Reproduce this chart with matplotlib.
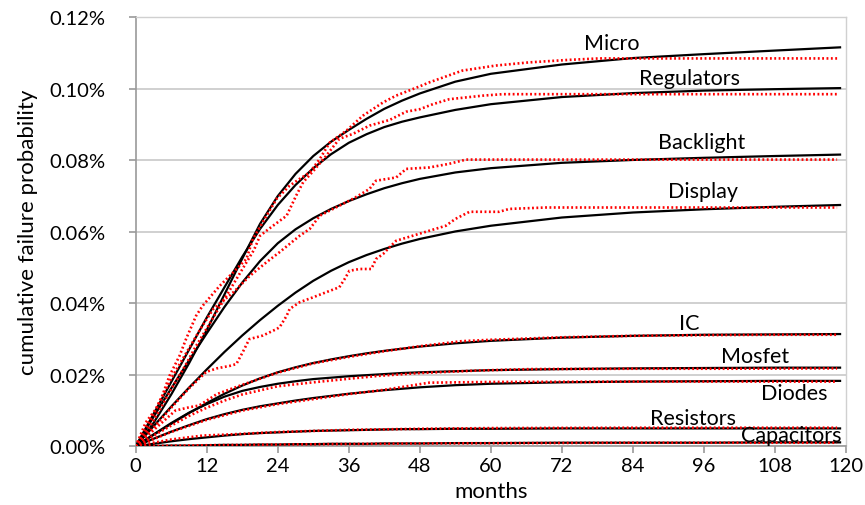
import matplotlib
matplotlib.use("Agg")
import matplotlib.pyplot as plt
from matplotlib.ticker import FuncFormatter

plt.rcParams['font.family'] = ['Lato', 'DejaVu Sans']

# months at which the fitted curves were read
fit_months = [0, 3, 6, 9, 12, 15, 18, 21, 24, 27, 30, 33, 36, 39, 42, 45, 48, 54, 60, 72, 84, 96, 108, 119]

# fitted curves (cumulative failure probability, %)
micro_fit = [0, 0.0065, 0.0145, 0.0232, 0.0325, 0.0425, 0.0525, 0.0622, 0.0700, 0.0762, 0.0812, 0.0852,
             0.0885, 0.0916, 0.0944, 0.0967, 0.0987, 0.1020, 0.1042, 0.1068, 0.1086, 0.1097, 0.1107, 0.1116]
reg_fit = [0, 0.0090, 0.0180, 0.0270, 0.0360, 0.0445, 0.0530, 0.0608, 0.0675, 0.0731, 0.0778, 0.0817,
           0.0849, 0.0873, 0.0893, 0.0908, 0.0920, 0.0941, 0.0957, 0.0977, 0.0988, 0.0995, 0.0999, 0.1002]
backlight_fit = [0, 0.0082, 0.0162, 0.0240, 0.0316, 0.0390, 0.0458, 0.0518, 0.0568, 0.0607, 0.0638, 0.0664,
                 0.0686, 0.0705, 0.0722, 0.0736, 0.0748, 0.0766, 0.0778, 0.0793, 0.0801, 0.0807, 0.0812, 0.0816]
display_fit = [0, 0.0056, 0.0111, 0.0164, 0.0215, 0.0264, 0.0310, 0.0353, 0.0393, 0.0430, 0.0463, 0.0491,
               0.0515, 0.0535, 0.0552, 0.0567, 0.0580, 0.0601, 0.0617, 0.0640, 0.0654, 0.0663, 0.0670, 0.0675]
ic_fit = [0, 0.0032, 0.0063, 0.0093, 0.0121, 0.0147, 0.0170, 0.0190, 0.0207, 0.0221, 0.0233, 0.0243,
          0.0252, 0.0260, 0.0267, 0.0273, 0.0279, 0.0288, 0.0295, 0.0304, 0.0309, 0.0312, 0.0313, 0.0314]
mosfet_fit = [0, 0.0033, 0.0065, 0.0094, 0.0118, 0.0139, 0.0155, 0.0166, 0.0175, 0.0182, 0.0188, 0.0192,
              0.0196, 0.0199, 0.0202, 0.0205, 0.0207, 0.0210, 0.0213, 0.0216, 0.0218, 0.0219, 0.0220, 0.0220]
diodes_fit = [0, 0.0021, 0.0041, 0.0059, 0.0076, 0.0090, 0.0102, 0.0112, 0.0120, 0.0128, 0.0135, 0.0141,
              0.0147, 0.0152, 0.0157, 0.0161, 0.0165, 0.0171, 0.0175, 0.0179, 0.0181, 0.0182, 0.0183, 0.0183]
resistors_fit = [0, 0.0007, 0.0014, 0.0020, 0.0025, 0.0030, 0.0034, 0.0037, 0.0039, 0.0041, 0.0043, 0.0044,
                 0.0045, 0.0046, 0.0047, 0.0048, 0.0048, 0.0049, 0.0049, 0.0050, 0.0050, 0.0050, 0.0050, 0.0050]
capacitors_fit = [0, 0.0001, 0.0002, 0.0002, 0.0003, 0.0004, 0.0004, 0.0005, 0.0005, 0.0006, 0.0006, 0.0007,
                  0.0007, 0.0007, 0.0008, 0.0008, 0.0008, 0.0009, 0.0009, 0.0010, 0.0010, 0.0010, 0.0011, 0.0011]

micro_obs_m = [0, 1.7, 3.4, 4.5, 5.7, 7.4, 8.5, 10.2, 11.3, 14.2, 16.5, 18.7, 19.8, 22.1, 23.8, 26.0,
               27.7, 29.4, 31.1, 32.8, 35.6, 38.4, 41.8, 44.0, 48.0, 49.6, 55.2, 60.8, 66.5, 73.2, 78.3, 118.5]
micro_obs = [0, 0.0067, 0.0104, 0.0142, 0.0197, 0.0253, 0.0300, 0.0365, 0.0393, 0.0449, 0.0487, 0.0524,
             0.0580, 0.0645, 0.0692, 0.0729, 0.0748, 0.0766, 0.0804, 0.0850, 0.0883, 0.0925, 0.0962,
             0.0981, 0.1007, 0.1018, 0.1051, 0.1065, 0.1074, 0.1081, 0.1085, 0.1085]
reg_obs_m = [0, 2, 4, 6, 8, 10, 12, 14, 16, 18, 20, 21, 23.2, 25.5, 27.1, 28.3, 30, 32.2, 34.4, 36.7,
             39.5, 42.9, 45.7, 48, 50.2, 53, 58.7, 62, 118.5]
reg_obs = [0, 0.0045, 0.0100, 0.0160, 0.0215, 0.0275, 0.0330, 0.0385, 0.0440, 0.0495, 0.0550, 0.0589,
           0.0617, 0.0645, 0.0701, 0.0739, 0.0770, 0.0813, 0.0860, 0.0874, 0.0897, 0.0913, 0.0936,
           0.0943, 0.0957, 0.0971, 0.0981, 0.0985, 0.0985]
backlight_obs_m = [0, 3, 6, 8.6, 11, 13.1, 16.5, 19.3, 22.1, 24.3, 27.7, 29.4, 31.1, 34.4, 37, 39.5,
                   40.6, 44, 45.7, 49.6, 52.9, 55.8, 118.5]
backlight_obs = [0, 0.0090, 0.0190, 0.0263, 0.0330, 0.0384, 0.0431, 0.0477, 0.0515, 0.0543, 0.0589,
                 0.0608, 0.0645, 0.0673, 0.0695, 0.0720, 0.0743, 0.0752, 0.0776, 0.0780, 0.0790,
                 0.0802, 0.0802]
display_obs_m = [0, 3, 6, 9, 11.9, 13.7, 15.9, 17.0, 18.1, 19.2, 20.4, 21.5, 23.8, 24.3, 25.5, 26.0,
                 27.7, 30.0, 32.8, 34.4, 35.3, 36.1, 37.8, 39.8, 40.6, 41.8, 42.9, 44.0, 49.6, 52.4,
                 54.0, 56.4, 61.4, 63.1, 69.3, 118.5]
display_obs = [0, 0.0052, 0.0108, 0.0162, 0.0208, 0.0218, 0.0225, 0.0230, 0.0264, 0.0300, 0.0305,
               0.0310, 0.0328, 0.0333, 0.0365, 0.0384, 0.0403, 0.0417, 0.0435, 0.0445, 0.0468, 0.0491,
               0.0496, 0.0496, 0.0524, 0.0538, 0.0557, 0.0575, 0.0603, 0.0617, 0.0636, 0.0656, 0.0656,
               0.0664, 0.0668, 0.0668]
ic_obs_m = [0, 3, 6.7, 9, 10.7, 13.7, 18, 24, 30, 36, 42, 48, 55, 60, 72, 84, 96, 108, 118.5]
ic_obs = [0, 0.0045, 0.0100, 0.0109, 0.0114, 0.0146, 0.0172, 0.0206, 0.0232, 0.0250, 0.0266, 0.0280,
          0.0294, 0.0298, 0.0305, 0.0309, 0.0311, 0.0312, 0.0312]
mosfet_obs_m = [0, 3, 6, 9, 12, 15, 18, 24, 30, 36, 41, 48, 58, 66.5, 84, 100, 118.5]
mosfet_obs = [0, 0.0030, 0.0058, 0.0085, 0.0108, 0.0128, 0.0145, 0.0168, 0.0179, 0.0189, 0.0197,
              0.0205, 0.0212, 0.0216, 0.0217, 0.0217, 0.0218]
diodes_obs_m = [0, 3, 6, 9, 12, 18, 24, 30, 36, 42, 49.6, 60, 84, 118.5]
diodes_obs = [0, 0.0020, 0.0040, 0.0057, 0.0074, 0.0100, 0.0118, 0.0132, 0.0146, 0.0158, 0.0178,
              0.0180, 0.0181, 0.0181]
resistors_obs_m = [0, 3, 6, 11.3, 16.9, 24, 36, 48, 60, 84, 118.5]
resistors_obs = [0, 0.0010, 0.0019, 0.0030, 0.0034, 0.0040, 0.0046, 0.0049, 0.0051, 0.0052, 0.0052]
capacitors_obs_m = [0, 12, 24, 48, 84, 118.5]
capacitors_obs = [0, 0.0003, 0.0005, 0.0008, 0.0010, 0.0010]

# label text and its (month, value) anchor at the baseline centre
labels = ['Micro', 'Regulators', 'Backlight', 'Display', 'IC', 'Mosfet', 'Diodes', 'Resistors', 'Capacitors']
label_x = [80.5, 93.6, 95.6, 95.8, 93.6, 104.6, 111.2, 94.1, 110.7]
label_y = [0.1111, 0.1013, 0.0834, 0.0697, 0.0328, 0.0235, 0.0132, 0.0062, 0.0016]

fits = [micro_fit, reg_fit, backlight_fit, display_fit, ic_fit, mosfet_fit, diodes_fit,
        resistors_fit, capacitors_fit]
obs = [(micro_obs_m, micro_obs), (reg_obs_m, reg_obs), (backlight_obs_m, backlight_obs),
       (display_obs_m, display_obs), (ic_obs_m, ic_obs), (mosfet_obs_m, mosfet_obs),
       (diodes_obs_m, diodes_obs), (resistors_obs_m, resistors_obs), (capacitors_obs_m, capacitors_obs)]

fig = plt.figure(figsize=(8.65, 5.06), dpi=100)
ax = fig.add_axes([0.1569, 0.116, 0.978 - 0.1569, 0.9638 - 0.116])

for f in fits:
    ax.plot(fit_months, f, color='black', lw=1.6, zorder=3, solid_joinstyle='round')
for m, v in obs:
    ax.plot(m, v, color='#ff0000', lw=1.9, linestyle=(0, (0.7, 0.95)), zorder=4)

for t, x, y in zip(labels, label_x, label_y):
    ax.text(x, y, t, ha='center', va='baseline', fontsize=15.5, color='black', zorder=5)

ax.set_xlim(0, 120)
ax.set_ylim(0, 0.12)
ax.set_xticks(range(0, 121, 12))
ax.set_yticks([0, 0.02, 0.04, 0.06, 0.08, 0.10, 0.12])
ax.yaxis.set_major_formatter(FuncFormatter(lambda v, p: '%.2f%%' % v))
ax.grid(axis='y', color='#c8c8c8', lw=1.2)
ax.set_axisbelow(True)

for s in ['left', 'bottom']:
    ax.spines[s].set_color('#9a9a9a')
    ax.spines[s].set_linewidth(1.2)
for s in ['top', 'right']:
    ax.spines[s].set_color('#d0d0d0')
    ax.spines[s].set_linewidth(1.0)
ax.tick_params(axis='both', colors='#9a9a9a', labelcolor='black', labelsize=14.5, length=5, width=1.2)
ax.tick_params(axis='x', pad=3)
ax.tick_params(axis='y', pad=17)

ax.set_xlabel('months', fontsize=16, labelpad=5)
ax.set_ylabel('cumulative failure probability', fontsize=16, labelpad=8)

fig.savefig('out.png', dpi=100)
